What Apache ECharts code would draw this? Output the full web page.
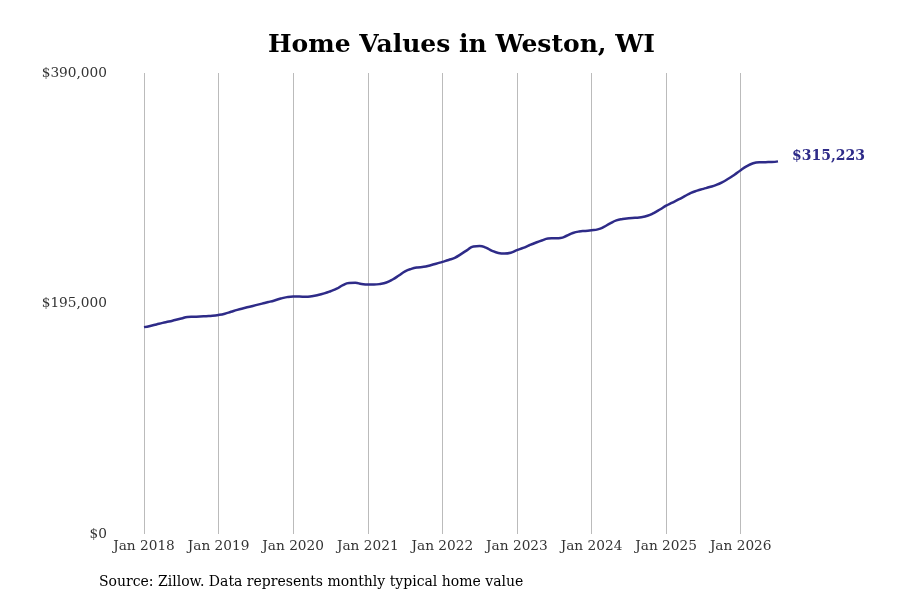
<!DOCTYPE html>
<html>
<head>
<meta charset="utf-8">
<script src="https://cdn.jsdelivr.net/npm/echarts@6/dist/echarts.min.js"></script>
<style>
html,body{margin:0;padding:0;background:#fff;}
#c{width:900px;height:600px;}
</style>
</head>
<body>
<div id="c"></div>
<script>
var titleText = "Home Values in Weston, WI";
var sourceText = "Source: Zillow. Data represents monthly typical home value";
var monthNames = ["Jan","Feb","Mar","Apr","May","Jun","Jul","Aug","Sep","Oct","Nov","Dec"];
var years = [2018,2019,2020,2021,2022,2023,2024,2025,2026];
var yTicks = [0, 195000, 390000];

var values2018 = [175000,176000,177300,178600,179700,181000,182300,183600,183800,184000,184300,184600];
var values2019 = [185300,186400,188000,189600,191000,192300,193600,194900,196200,197600,199200,200400];
var values2020 = [200900,200900,200700,201200,202200,203600,205400,207500,210600,212300,212500,211500];
var values2021 = [211000,211000,211500,212800,215300,218700,222200,224300,225500,226000,227200,228600];
var values2022 = [230200,231800,233600,236800,240200,243300,243700,242300,239600,237800,237300,238000];
var values2023 = [240100,242000,244300,246400,248300,249900,250200,250500,252300,254600,255900,256400];
var values2024 = [256900,257700,259800,262800,265300,266500,267100,267500,268000,269200,271500,274500];
var values2025 = [277800,280400,283000,285800,288600,290500,292000,293500,295200,297500,300500,304000];
var values2026 = [307800,311200,313600,314500,314600,314700,315223];

var values = [].concat(values2018, values2019, values2020, values2021, values2022, values2023, values2024, values2025, values2026);
var categories = [];
for (var i = 0; i < values.length; i++) {
  categories.push(monthNames[i % 12] + " " + years[Math.floor(i / 12)]);
}

var FONT = "DejaVu Serif";
var LINE = "#2e2b88";

function fmtMoney(v) {
  return "$" + Math.round(v).toString().replace(/\B(?=(\d{3})+(?!\d))/g, ",");
}

var chart = echarts.init(document.getElementById("c"), null, {renderer: "canvas"});
chart.setOption({
  backgroundColor: "#fff",
  animation: false,
  title: {
    text: titleText,
    left: 263,
    top: 28,
    textStyle: {fontFamily: FONT, fontWeight: "bold", fontSize: 25, color: "#000"}
  },
  graphic: [{
    type: "text",
    left: 99,
    top: 575,
    style: {text: sourceText, font: "14px 'DejaVu Serif'", fill: "#000"}
  }],
  grid: {left: 144, right: 122, top: 73, bottom: 66, containLabel: false},
  xAxis: {
    type: "category",
    data: categories,
    boundaryGap: false,
    axisLine: {show: false},
    axisTick: {show: false},
    axisLabel: {
      interval: function (idx) { return idx % 12 === 0; },
      fontFamily: FONT, fontSize: 13.7, color: "#333", margin: 5
    },
    splitLine: {
      show: true,
      interval: function (idx) { return idx % 12 === 0; },
      lineStyle: {color: "#bbbbbb", width: 1}
    }
  },
  yAxis: {
    type: "value",
    min: yTicks[0],
    max: yTicks[2],
    interval: yTicks[1],
    axisLine: {show: false},
    axisTick: {show: false},
    splitLine: {show: false},
    axisLabel: {
      fontFamily: FONT, fontSize: 13.7, color: "#333", margin: 37,
      padding: [4, 0, 0, 0],
      formatter: function (v) { return fmtMoney(v); }
    }
  },
  series: [{
    type: "line",
    data: values,
    smooth: true,
    showSymbol: false,
    lineStyle: {color: LINE, width: 2.5},
    itemStyle: {color: LINE},
    endLabel: {
      show: true,
      distance: 14,
      formatter: function (p) { return fmtMoney(p.value); },
      fontFamily: FONT, fontWeight: "bold", fontSize: 14, color: LINE,
      offset: [0, -5]
    }
  }]
});
</script>
</body>
</html>
